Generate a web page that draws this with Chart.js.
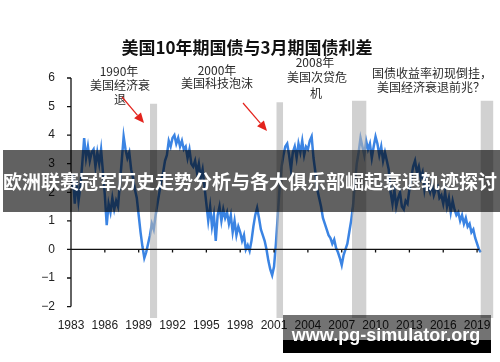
<!DOCTYPE html>
<html>
<head>
<meta charset="utf-8">
<script src="https://cdn.jsdelivr.net/npm/chart.js@4.4.1/dist/chart.umd.min.js"></script>
<style>
  html, body { margin: 0; padding: 0; background: #fff; }
  #wrap { width: 500px; height: 362px; position: relative; }
</style>
</head>
<body>
<div id="wrap"><canvas id="chart"></canvas></div>
<script>
// 10y - 3m spread, six readings per year starting 1983
const startYear = 1983;
const pointsPerYear = 6;
const spread = [
  2.1, 2.6, 1.6, 2.4, 1.7, 2.2,      // 1983
  3.0, 3.9, 3.2, 3.6, 3.1, 3.4,      // 1984
  3.5, 2.9, 3.4, 3.0, 3.5, 2.7,      // 1985
  1.9, 0.85, 1.6, 1.3, 1.8, 1.4,     // 1986
  1.7, 1.5, 2.3, 3.1, 3.95, 3.5,     // 1987
  3.2, 3.4, 2.8, 2.5, 2.1, 1.8,      // 1988
  1.2, 0.6, 0.1, -0.3, -0.1, 0.2,    // 1989
  0.5, 0.9, 0.7, 1.2, 1.6, 2.0,      // 1990
  2.4, 2.7, 3.1, 3.3, 3.8, 3.6,      // 1991
  3.9, 4.0, 3.7, 3.9, 3.6, 3.8,      // 1992
  3.5, 3.6, 3.2, 3.5, 3.0, 2.9,      // 1993
  3.1, 2.7, 3.0, 2.5, 2.8, 2.2,      // 1994
  1.6, 1.0, 1.5, 0.8, 1.2, 0.3,      // 1995
  1.2, 1.5, 1.0, 1.4, 1.1, 1.3,      // 1996
  0.9, 1.2, 0.6, 1.0, 0.5, 0.8,      // 1997
  0.6, 0.3, 0.5, 0.0, 0.15, -0.05,   // 1998
  0.3, 0.8, 1.2, 1.45, 1.1, 0.7,     // 1999
  0.5, 0.3, 0.0, -0.4, -0.7, -0.9,   // 2000
  -0.6, 0.2, 1.2, 2.2, 2.9, 3.3,     // 2001
  3.6, 3.7, 3.3, 2.8, 3.4, 3.6,      // 2002
  3.2, 3.7, 3.4, 3.8, 3.3, 3.6,      // 2003
  3.5, 3.8, 3.95, 3.2, 2.7, 2.1,     // 2004
  1.8, 1.5, 1.1, 0.9, 0.7, 0.5,      // 2005
  0.4, 0.2, 0.35, 0.05, -0.1, -0.3,  // 2006
  -0.55, -0.2, 0.0, 0.2, 0.6, 1.0,   // 2007
  1.5, 2.3, 3.0, 3.4, 3.9, 3.6,      // 2008
  3.3, 3.8, 3.5, 3.7, 3.2, 3.6,      // 2009
  3.95, 3.7, 3.3, 3.6, 3.1, 3.4,     // 2010
  3.1, 2.8, 2.0, 1.6, 2.1, 1.5,      // 2011
  1.8, 2.0, 1.5, 1.4, 1.7, 1.6,      // 2012
  2.1, 2.5, 2.9, 3.1, 2.7, 2.9,      // 2013
  2.5, 2.7, 2.1, 2.5, 2.2, 2.0,      // 2014
  2.3, 1.9, 2.1, 2.2, 1.8, 1.9,      // 2015
  1.6, 2.0, 1.5, 1.8, 1.3, 1.7,      // 2016
  1.4, 1.2, 1.3, 1.0, 1.2, 0.9,      // 2017
  1.1, 0.8, 0.9, 0.6, 0.7, 0.4,      // 2018
  0.2, 0.0, -0.1                     // 2019
];

// shaded recession bands
const recessionStart = [1990.0, 2001.2, 2007.9, 2019.3];
const recessionEnd = [1990.65, 2001.8, 2009.2, 2020.45];
const recessionTop = [5.1, 5.15, 5.2, 5.2];
const recessionBottom = -2.4;

const xTickYears = [1983, 1986, 1989, 1992, 1995, 1998, 2001, 2004, 2007, 2010, 2013, 2016, 2019];
const yTickValues = [-2, -1, 0, 1, 2, 3, 4, 5, 6];

const titleText = '美国10年期国债与3月期国债利差';
const bannerText = '欧洲联赛冠军历史走势分析与各大俱乐部崛起衰退轨迹探讨';
const watermarkText = 'www.pg-simulator.org';

const notes = [
  { lines: ['1990年', '美国经济衰', '退'], x: [119, 120, 120], y: [71, 85, 99] },
  { lines: ['2000年', '美国科技泡沫'], x: [217, 217], y: [70, 83] },
  { lines: ['2008年', '美国次贷危', '机'], x: [315, 317, 316], y: [62, 77, 93] },
  { lines: ['国债收益率初现倒挂，', '美国经济衰退前兆？'], x: [432, 431], y: [73, 87] }
];
const arrows = [[122, 97, 144, 123], [243, 103, 267, 131]];

const lineData = spread.map((v, i) => ({ x: startYear + i / pointsPerYear, y: v }));

const bandSets = recessionStart.map((s, i) => ({
  data: [{ x: s, y: recessionTop[i] }, { x: recessionEnd[i], y: recessionTop[i] }],
  borderColor: 'rgba(0,0,0,0)',
  borderWidth: 0,
  pointRadius: 0,
  backgroundColor: 'rgba(178,178,178,0.6)',
  fill: { value: recessionBottom }
}));

function drawArrow(ctx, x1, y1, x2, y2) {
  const a = Math.atan2(y2 - y1, x2 - x1);
  const hl = 10, hw = 4.5;
  const bx = x2 - hl * Math.cos(a), by = y2 - hl * Math.sin(a);
  ctx.strokeStyle = '#e3231c';
  ctx.fillStyle = '#e3231c';
  ctx.lineWidth = 1.2;
  ctx.beginPath();
  ctx.moveTo(x1, y1);
  ctx.lineTo(bx, by);
  ctx.stroke();
  ctx.beginPath();
  ctx.moveTo(x2, y2);
  ctx.lineTo(bx + hw * Math.sin(a), by - hw * Math.cos(a));
  ctx.lineTo(bx - hw * Math.sin(a), by + hw * Math.cos(a));
  ctx.closePath();
  ctx.fill();
}

const decor = {
  id: 'decor',
  afterDatasetsDraw(chart) {
    const ctx = chart.ctx;
    const xs = chart.scales.x, ys = chart.scales.y;
    ctx.save();
    // axes
    ctx.strokeStyle = '#111';
    ctx.lineWidth = 1.3;
    const ax = xs.getPixelForValue(startYear);
    ctx.beginPath();
    ctx.moveTo(ax, ys.getPixelForValue(6));
    ctx.lineTo(ax, ys.getPixelForValue(-2));
    yTickValues.forEach(v => {
      const py = ys.getPixelForValue(v);
      ctx.moveTo(ax - 4, py);
      ctx.lineTo(ax, py);
    });
    const zy = ys.getPixelForValue(0);
    ctx.moveTo(ax, zy);
    ctx.lineTo(xs.getPixelForValue(2019.2), zy);
    xTickYears.forEach(v => {
      const px = xs.getPixelForValue(v);
      ctx.moveTo(px, zy);
      ctx.lineTo(px, zy + 3);
    });
    ctx.stroke();

    // annotations
    ctx.fillStyle = '#2a2a2a';
    ctx.font = '12px "Noto Sans CJK SC"';
    ctx.textAlign = 'center';
    ctx.textBaseline = 'middle';
    notes.forEach(n => n.lines.forEach((t, i) => ctx.fillText(t, n.x[i], n.y[i])));
    arrows.forEach(a => drawArrow(ctx, a[0], a[1], a[2], a[3]));
    ctx.restore();
  },
  afterDraw(chart) {
    const ctx = chart.ctx;
    ctx.save();
    // overlay banner
    ctx.fillStyle = 'rgba(0,0,0,0.62)';
    ctx.fillRect(3, 150, 497, 62);
    ctx.fillStyle = '#fff';
    ctx.font = 'bold 19px "Noto Sans CJK SC"';
    ctx.textAlign = 'center';
    ctx.textBaseline = 'middle';
    ctx.fillText(bannerText, 250, 182);
    // watermark
    ctx.fillStyle = 'rgba(0,0,0,0.55)';
    ctx.fillRect(283, 315, 208, 25);
    ctx.fillStyle = '#000';
    ctx.fillRect(283, 340, 208, 13);
    ctx.fillStyle = '#fff';
    ctx.font = 'bold 18px "Liberation Sans"';
    ctx.fillText(watermarkText, 386, 336);
    ctx.restore();
  }
};

new Chart(document.getElementById('chart'), {
  type: 'line',
  data: {
    datasets: [
      ...bandSets,
      {
        data: lineData,
        borderColor: '#3b84e3',
        borderWidth: 2.5,
        pointRadius: 0,
        tension: 0,
        fill: false
      }
    ]
  },
  options: {
    responsive: true,
    maintainAspectRatio: false,
    animation: false,
    layout: { padding: { left: 0, right: 6, top: 0, bottom: 20 } },
    plugins: {
      legend: { display: false },
      tooltip: { enabled: false },
      title: {
        display: true,
        text: titleText,
        color: '#111',
        font: { family: '"Noto Sans CJK SC"', size: 17, weight: 'bold' },
        padding: { top: 37, bottom: 20.6 }
      }
    },
    scales: {
      x: {
        type: 'linear',
        min: 1983,
        max: 2020.5,
        afterBuildTicks: s => { s.ticks = xTickYears.map(v => ({ value: v })); },
        afterFit: s => { s.height = 24; },
        grid: { display: false, drawTicks: false },
        border: { display: false },
        ticks: {
          color: '#222',
          font: { family: '"Liberation Sans"', size: 12 },
          padding: 0,
          maxRotation: 0,
          autoSkip: false,
          callback: v => String(v)
        }
      },
      y: {
        min: recessionBottom,
        max: 6,
        afterBuildTicks: s => { s.ticks = yTickValues.map(v => ({ value: v })); },
        afterFit: s => { s.width = 71; },
        grid: { display: false, drawTicks: false },
        border: { display: false },
        ticks: {
          color: '#222',
          font: { family: '"Liberation Sans"', size: 12 },
          padding: 16,
          callback: v => String(v).replace('-', '−')
        }
      }
    }
  },
  plugins: [decor]
});
</script>
</body>
</html>
